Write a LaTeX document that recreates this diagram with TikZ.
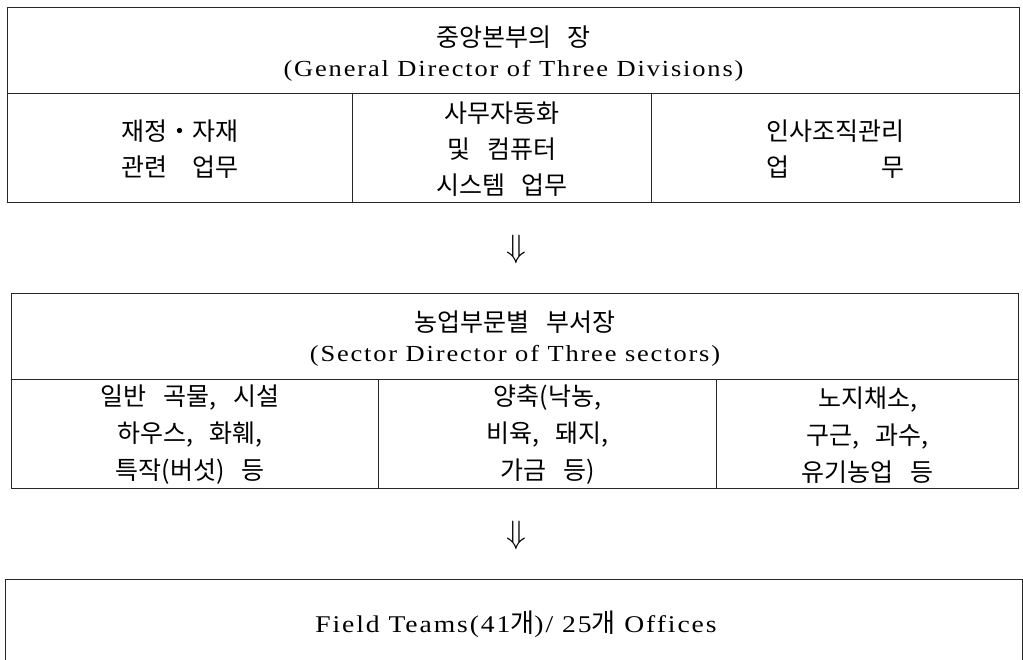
\documentclass[tikz,border=0pt]{standalone}
\usepackage{fontspec}
\usepackage{calc}
\setmainfont{Liberation Serif}[FakeStretch=1.15,LetterSpace=8]
\newfontfamily\kr[Scale=1.087,WordSpace=3]{Noto Sans CJK KR}
\tikzset{
  cell/.style={draw=black!85,line width=1pt,inner sep=0pt,anchor=north west},
  headtext/.style={inner sep=0pt,align=center,font=\fontsize{23}{30.5}\selectfont},
  rowtext/.style={inner sep=0pt,align=center,font=\fontsize{23}{36}\selectfont},
  rowtextb/.style={inner sep=0pt,align=center,font=\fontsize{23}{37}\selectfont},
  downarrow/.style={inner sep=0pt,font=\fontsize{23}{23}\selectfont}
}
\begin{document}
\begin{tikzpicture}[x=1pt,y=-1pt]
\useasboundingbox (0,0) rectangle (1023,660);
\clip (0,0) rectangle (1023,660);
% Table 1
\node[cell,minimum width=1012pt,minimum height=86pt] (h1) at (7,7) {};
\node[headtext] (h1t) at ([yshift=-3pt]h1.center)
  {{\kr 중앙본부의 장}\\(General Director of Three Divisions)};
\node[cell,minimum width=345pt,minimum height=109pt] (c11) at (7,93) {};
\node[rowtext] (c11t) at ([yshift=-1pt]c11.center)
  {{\kr 재정・자재}\\{\kr\makebox[\widthof{\kr 재정・자재}][s]{관련 업무}}};
\node[cell,minimum width=299pt,minimum height=109pt] (c12) at (352,93) {};
\node[rowtext] (c12t) at ([yshift=-1pt]c12.center)
  {{\kr 사무자동화}\\{\kr 및 컴퓨터}\\{\kr 시스템 업무}};
\node[cell,minimum width=368pt,minimum height=109pt] (c13) at (651,93) {};
\node[rowtext] (c13t) at ([yshift=-1pt]c13.center)
  {{\kr 인사조직관리}\\{\kr\makebox[\widthof{\kr 인사조직관리}][s]{업 무}}};
% arrow 1
\node[downarrow] (a1) at (516,249) {\scalebox{1.3}{$\Downarrow$}};
% Table 2
\node[cell,minimum width=1007pt,minimum height=86pt] (h2) at (11,293) {};
\node[headtext] (h2t) at ([yshift=-2pt]h2.center)
  {{\kr 농업부문별 부서장}\\(Sector Director of Three sectors)};
\node[cell,minimum width=367pt,minimum height=109pt] (c21) at (11,379) {};
\node[rowtextb] (c21t) at ([yshift=-1pt,xshift=-5pt]c21.center)
  {{\kr 일반 곡물, 시설}\\{\kr 하우스, 화훼,}\\{\kr 특작(버섯) 등}};
\node[cell,minimum width=338pt,minimum height=109pt] (c22) at (378,379) {};
\node[rowtextb] (c22t) at ([yshift=-1pt]c22.center)
  {{\kr 양축(낙농,}\\{\kr 비육, 돼지,}\\{\kr 가금 등)}};
\node[cell,minimum width=302pt,minimum height=109pt] (c23) at (716,379) {};
\node[rowtextb] (c23t) at ([yshift=-1pt]c23.center)
  {{\kr 노지채소,}\\{\kr 구근, 과수,}\\{\kr 유기농업 등}};
% arrow 2
\node[downarrow] (a2) at (516,535) {\scalebox{1.3}{$\Downarrow$}};
% Table 3
\node[cell,minimum width=1017pt,minimum height=100pt] (t3) at (5,579) {};
\node[font=\fontsize{24}{24}\selectfont,inner sep=0pt] (t3t) at (516,624)
  {Field Teams(41{\kr 개})/ 25{\kr 개} Offices};
\end{tikzpicture}
\end{document}
